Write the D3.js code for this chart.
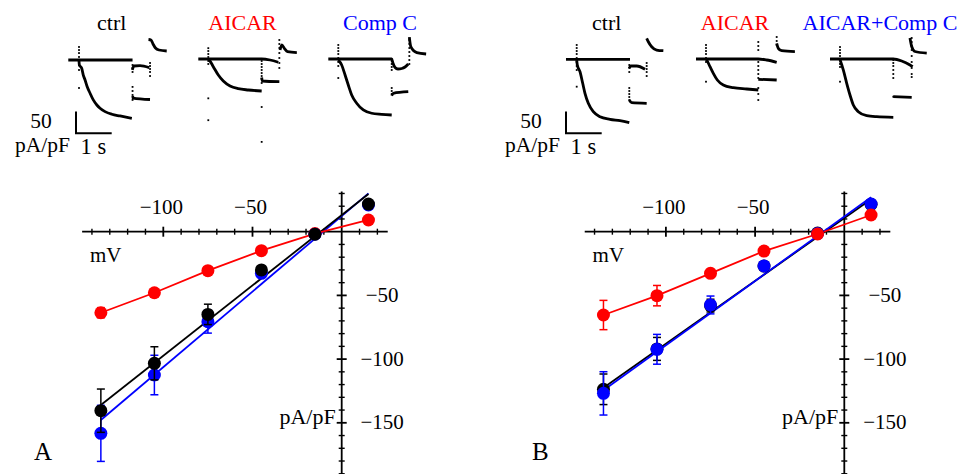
<!DOCTYPE html>
<html>
<head>
<meta charset="utf-8">
<script src="https://cdn.jsdelivr.net/npm/d3@7"></script>
<style>
  html, body { margin: 0; padding: 0; background: #fff; }
  svg { display: block; font-family: "Liberation Serif", "Times New Roman", serif; }
</style>
</head>
<body>
<svg id="fig" width="964" height="474"></svg>
<script>
// ---------- I–V data: test potentials (mV) and mean current density (pA/pF) ± SEM ----------
const voltages = [-135, -105, -75, -45, -15, 15];

const ctrlA      = [-140.5, -103.3, -64.9, -30.0, -2.0, 21.7];
const ctrlA_sem  = [17, 13, 8, 2, 1, 1];
const aicarA     = [-63.6, -47.9, -30.6, -14.9, -1.5, 9.2];
const aicarA_sem = [4, 2, 2, 1, 1, 1];
const compA      = [-158.3, -112.5, -70.6, -32.7, -2.0, 21.0];
const compA_sem  = [22, 15.5, 9, 2, 1, 1];

const ctrlB      = [-123.7, -92.0, -58.0, -27.0, -1.0, 21.5];
const ctrlB_sem  = [12, 9, 5, 1, 1, 1];
const aicarB     = [-65.4, -50.2, -32.7, -15.2, -1.8, 13.1];
const aicarB_sem = [11.5, 8, 3, 1.5, 1, 1];
const compB      = [-126.9, -92.3, -57.5, -26.9, -1.5, 21.7];
const compB_sem  = [17, 11.7, 7, 1.5, 1, 1];

// linear fits (end points at -135 and +15 mV)
const fitV      = [-135, 15];
const ctrlFitA  = [-136.0, 29.6];
const compFitA  = [-147.8, 30.1];
const ctrlFitB  = [-122.5, 25.5];
const compFitB  = [-124.5, 27.0];

// axis ticks
const xTickValues  = [-140, -130, -120, -110, -100, -90, -80, -70, -60, -50, -40, -30, -20, -10, 10, 20];
const xTickLabels  = [-100, -50];
const yTickValues  = [-190, -180, -170, -160, -150, -140, -130, -120, -110, -100, -90, -80, -70, -60,
                      -50, -40, -30, -20, -10, 10, 20, 30];
const yTickLabels  = [-50, -100, -150];

// ---------- example current traces: [time (s), current (pA/pF)] ----------
const ctrlA_hold   = [[-0.3, 0], [1.5, 0]];
const ctrlA_step   = [[0, -2], [0.01, -11.5], [0.076, -19], [0.12, -34.6], [0.17, -46], [0.23, -61.5], [0.31, -76.6],
                      [0.40, -92], [0.50, -103.7], [0.59, -111.3], [0.73, -119], [0.92, -125], [1.15, -129], [1.48, -134.3]];
const ctrlA_tailHi = [[1.493, -23], [1.54, -13.8], [1.709, -13.1], [1.969, -17.7]];
const ctrlA_tailLo = [[1.504, -83], [1.513, -87.6], [1.989, -91]];
const ctrlA_end    = [[1.947, 47.2], [2.017, 46.1], [2.073, 36.9], [2.143, 27.6], [2.241, 23], [2.457, 20.7]];
const ctrlA_marks  = [[0, [30, 23, 16, 7, -5, -12, -23, -64.5]],
                      [1.5, [-11.5, -18.4, -27.6, -62, -71.4, -80.6, -92]],
                      [1.99, [-6.9, -13.8, -20.7, -27.6, -36.9]]];

const aicarA_hold   = [[-0.28, 0], [1.495, 0], [1.73, -2.3], [1.96, -7.6]];
const aicarA_step   = [[0, 0], [0.028, -2.3], [0.14, -17.7], [0.28, -36.9], [0.42, -50.7], [0.61, -62.2],
                       [0.84, -68.4], [1.12, -71.4], [1.495, -73.7]];
const aicarA_tailLo = [[1.495, -42.6], [1.515, -50.7], [1.99, -52.3]];
const aicarA_end    = [[2.01, 20.7], [2.06, 32.3], [2.13, 24.6], [2.22, 16.9], [2.48, 14.6]];
const aicarA_marks  = [[0, [25, 18.4, 11.5, 4.6, -4.6, -11.5, -90.6, -141]],
                       [1.495, [-4.6, -11.5, -18.4, -25.3, -32.3, -39.2, -46, -55.3, -110.6, -191]],
                       [1.99, [43.8, 34.6, 25.3, 13.8, 2.3, -9.2, -20.7]]];

const compA_hold   = [[-0.28, 0], [1.496, 0], [1.53, -9.2], [1.59, -19.6], [1.67, -23], [1.78, -21.9], [1.87, -18.4], [1.96, -11.5]];
const compA_step   = [[0, -2.3], [0.095, -13.8], [0.19, -36.9], [0.28, -59.9], [0.375, -82.9], [0.515, -102],
                      [0.7, -117.5], [0.936, -125], [1.216, -127.4], [1.496, -129]];
const compA_tailLo = [[1.496, -84.6], [1.54, -79], [1.96, -75.3]];
const compA_end    = [[1.99, 50.2], [2.03, 28.6], [2.2, 14.8], [2.46, 11.5]];
const compA_marks  = [[0, [32.3, 25.3, 18.4, 11.5, 2.3, -6.9, -16.1, -43.8]],
                      [1.496, [-4.6, -11.5, -18.4, -25.3, -66.8, -73.7, -80.6]],
                      [1.99, [43.8, 34.6, 25.3, 16.1, 6.9, -2.3, -11.5]]];

const ctrlB_hold   = [[-0.3, 0], [1.493, 0]];
const ctrlB_step   = [[0, -2], [0.017, -13.1], [0.092, -28.6], [0.168, -55.3], [0.232, -78.3], [0.325, -101.4],
                      [0.465, -120.7], [0.652, -132.2], [0.933, -138.2], [1.213, -141.5], [1.473, -146.1]];
const ctrlB_tailHi = [[1.473, -20.7], [1.513, -15.4], [1.681, -15.4], [1.914, -23]];
const ctrlB_tailLo = [[1.473, -93.8], [1.54, -100], [1.96, -101.4]];
const ctrlB_end    = [[1.96, 48.2], [2.006, 40.5], [2.1, 29], [2.24, 21.4], [2.427, 19.8]];
const ctrlB_marks  = [[0, [33, 26, 19.1, 12.2, 3, -6.2, -15.4, -24.7, -63.1]],
                      [1.473, [-13.1, -20, -29.3, -66.1, -73, -80, -86.9, -93.8]],
                      [1.96, [-8.5, -15.4, -22.4, -29.3, -38.5]]];

const aicarB_hold   = [[-0.28, 0], [1.465, 0], [1.70, -2.3], [1.98, -7.6]];
const aicarB_step   = [[0, 0], [0.02, -2.3], [0.112, -17.7], [0.205, -33], [0.317, -48.4], [0.485, -59.9],
                       [0.765, -66.1], [1.14, -69.1], [1.465, -71.4]];
const aicarB_tailLo = [[1.465, -46.8], [1.98, -48.4]];
const aicarB_end    = [[1.98, 36.1], [2.025, 24.6], [2.12, 19.1], [2.49, 16.8]];
const aicarB_marks  = [[0, [32.3, 25.3, 18.4, 11.5, 2.3, -6.9, -52.3]],
                       [1.465, [39.2, 30, 20.7, -6.9, -16.1, -25.3, -34.6, -43.8, -66.8, -80.6, -94.5]],
                       [1.98, [50.7, 41.5, 32.3]]];

const combB_hold   = [[-0.28, 0], [1.493, 0], [1.728, -4.6], [1.961, -13.8], [2.036, -17.7]];
const combB_step   = [[0, -2], [0.02, -6.2], [0.092, -25.3], [0.188, -56], [0.28, -83], [0.373, -106],
                      [0.513, -121.4], [0.748, -130.6], [1.028, -133], [1.493, -134.3]];
const combB_tailLo = [[1.493, -86.9], [2.008, -88.2]];
const combB_end    = [[1.96, 48.2], [2.008, 28.8], [2.1, 17.3], [2.43, 13.6]];
const combB_marks  = [[0, [27.6, 20.7, 13.8, 6.9, -2.3, -11.5, -18.4, -52.3]],
                      [1.493, [-2.3, -9.2, -16.1, -25.3, -34.6, -43.8, -86.9]],
                      [2.008, [48.4, 39.2, 29.9, 20.7, 6.9, -6.9, -20.7, -34.6, -41.5]]];

// ---------- drawing ----------
const RED = "#ff0000", BLUE = "#0000ff", BLACK = "#000000";
const svg = d3.select("#fig");
const MINUS = "\u2212";
const fmt = v => (v < 0 ? MINUS + Math.abs(v) : String(v));

function drawIV(x0, letter, letterX, series) {
  const g = svg.append("g");
  const y0 = 231.7, kx = 1.784, ky = 1.274;
  const x = d3.scaleLinear().domain([-145.5, 25.8]).range([x0 - 145.5 * kx, x0 + 25.8 * kx]);
  const y = d3.scaleLinear().domain([-200, 31.5]).range([y0 + 200 * ky, y0 - 31.5 * ky]);

  // axes cross at the origin, ticks straddle the lines
  const ax = g.append("g").attr("stroke", BLACK).attr("stroke-width", 1.8);
  ax.append("line").attr("x1", x(-145.5)).attr("x2", x(25.8)).attr("y1", y(0)).attr("y2", y(0));
  ax.append("line").attr("x1", x(0)).attr("x2", x(0)).attr("y1", y(31.5)).attr("y2", y(-200));
  ax.selectAll(null).data(xTickValues).join("line")
    .attr("x1", d => x(d)).attr("x2", d => x(d))
    .attr("y1", d => y(0) - (xTickLabels.includes(d) ? 5 : 3))
    .attr("y2", d => y(0) + (xTickLabels.includes(d) ? 5 : 3))
    .attr("stroke-width", d => xTickLabels.includes(d) ? 1.8 : 1.4);
  ax.selectAll(null).data(yTickValues).join("line")
    .attr("y1", d => y(d)).attr("y2", d => y(d))
    .attr("x1", d => x(0) - (yTickLabels.includes(d) ? 5 : 3))
    .attr("x2", d => x(0) + (yTickLabels.includes(d) ? 5 : 3))
    .attr("stroke-width", d => yTickLabels.includes(d) ? 1.8 : 1.4);

  g.selectAll(null).data(xTickLabels).join("text")
    .attr("x", d => x(d) - 2).attr("y", 213.5)
    .attr("text-anchor", "middle").attr("font-size", 21).text(fmt);
  g.selectAll(null).data(yTickLabels).join("text")
    .attr("x", x(0) + 40.5).attr("y", d => y(d) + 6.5)
    .attr("text-anchor", "middle").attr("font-size", 21).text(fmt);
  g.append("text").attr("x", x0 - 251.7).attr("y", 261.5).attr("font-size", 21).text("mV");
  g.append("text").attr("x", x(0) - 6).attr("y", y(-150) + 1.5)
    .attr("text-anchor", "end").attr("font-size", 22).text("pA/pF");
  g.append("text").attr("x", letterX).attr("y", 460).attr("font-size", 25).text(letter);

  const line = d3.line().x(d => x(d[0])).y(d => y(d[1]));
  series.forEach(s => {
    if (s.fit) {
      g.append("path").attr("d", line(fitV.map((v, k) => [v, s.fit[k]])))
        .attr("fill", "none").attr("stroke", s.color).attr("stroke-width", 1.8);
    }
  });
  series.forEach(s => {
    if (s.joined) {
      g.append("path").attr("d", line(voltages.map((v, k) => [v, s.values[k]])))
        .attr("fill", "none").attr("stroke", s.color).attr("stroke-width", 1.8);
    }
  });
  series.forEach(s => {
    const pts = voltages.map((v, k) => ({ v, m: s.values[k], e: s.sem[k] }));
    const eg = g.append("g").attr("stroke", s.color).attr("stroke-width", 1.5);
    eg.selectAll(null).data(pts).join("line")
      .attr("x1", d => x(d.v)).attr("x2", d => x(d.v))
      .attr("y1", d => y(d.m - d.e)).attr("y2", d => y(d.m + d.e));
    eg.selectAll(null).data(pts.flatMap(d => [d.m - d.e, d.m + d.e].map(e => ({ v: d.v, e })))).join("line")
      .attr("x1", d => x(d.v) - 4).attr("x2", d => x(d.v) + 4)
      .attr("y1", d => y(d.e)).attr("y2", d => y(d.e));
    g.selectAll(null).data(pts).join("circle")
      .attr("cx", d => x(d.v)).attr("cy", d => y(d.m)).attr("r", 6.5).attr("fill", s.color);
  });
}

drawIV(341.7, "A", 34, [
  { values: aicarA, sem: aicarA_sem, color: RED, joined: true },
  { values: compA, sem: compA_sem, color: BLUE, fit: compFitA },
  { values: ctrlA, sem: ctrlA_sem, color: BLACK, fit: ctrlFitA }
]);

drawIV(844.3, "B", 532, [
  { values: ctrlB, sem: ctrlB_sem, color: BLACK, fit: ctrlFitB },
  { values: compB, sem: compB_sem, color: BLUE, fit: compFitB },
  { values: aicarB, sem: aicarB_sem, color: RED, joined: true }
]);

// ---------- current trace insets ----------
function drawInset(x0, y0, title, color, titleX, paths, marks) {
  const g = svg.append("g");
  const t = d3.scaleLinear().domain([0, 1]).range([x0, x0 + 35.7]);
  const i = d3.scaleLinear().domain([0, 50]).range([y0, y0 - 21.7]);
  const line = d3.line().x(d => t(d[0])).y(d => i(d[1])).curve(d3.curveMonotoneX);
  paths.forEach(p => {
    g.append("path").attr("d", line(p)).attr("fill", "none")
      .attr("stroke", BLACK).attr("stroke-width", 2.8);
  });
  const dots = marks.flatMap(([tt, list]) => list.map(c => [tt, c]));
  g.selectAll(null).data(dots).join("rect")
    .attr("x", d => t(d[0]) - 0.9).attr("y", d => i(d[1]) - 0.9)
    .attr("width", 1.8).attr("height", 1.8).attr("fill", BLACK);
  svg.append("text").attr("x", titleX).attr("y", 30).attr("text-anchor", "middle")
    .attr("font-size", 22).attr("fill", color).text(title);
}

// calibration bar (50 pA/pF, 1 s)
function scaleBar(sc, textX) {
  const g = svg.append("g");
  g.append("path")
    .attr("d", d3.line()([[sc.t(0), sc.i(50)], [sc.t(0), sc.i(0)], [sc.t(1), sc.i(0)]]))
    .attr("fill", "none").attr("stroke", BLACK).attr("stroke-width", 2);
  g.append("text").attr("x", textX).attr("y", sc.i(0) - 5.5).attr("text-anchor", "middle")
    .attr("font-size", 21.5).text("50");
  g.append("text").attr("x", textX + 1.5).attr("y", sc.i(0) + 18.8).attr("text-anchor", "middle")
    .attr("font-size", 21.5).text("pA/pF");
  g.append("text").attr("x", sc.t(0) + 4.5).attr("y", sc.i(0) + 20.5)
    .attr("font-size", 22.5).text("1 s");
}

drawInset(79, 60, "ctrl", BLACK, 111.7,
  [ctrlA_hold, ctrlA_step, ctrlA_tailHi, ctrlA_tailLo, ctrlA_end], ctrlA_marks);
drawInset(208.3, 59, "AICAR", RED, 242.5,
  [aicarA_hold, aicarA_step, aicarA_tailLo, aicarA_end], aicarA_marks);
drawInset(338.3, 59, "Comp C", BLUE, 380,
  [compA_hold, compA_step, compA_tailLo, compA_end], compA_marks);

drawInset(576.7, 59.3, "ctrl", BLACK, 606.7,
  [ctrlB_hold, ctrlB_step, ctrlB_tailHi, ctrlB_tailLo, ctrlB_end], ctrlB_marks);
drawInset(706, 59, "AICAR", RED, 735,
  [aicarB_hold, aicarB_step, aicarB_tailLo, aicarB_end], aicarB_marks);
drawInset(840, 59, "AICAR+Comp C", BLUE, 880,
  [combB_hold, combB_step, combB_tailLo, combB_end], combB_marks);

const barScaleA = {
  t: d3.scaleLinear().domain([0, 1]).range([76, 76 + 35.7]),
  i: d3.scaleLinear().domain([0, 50]).range([133.3, 133.3 - 21.7])
};
const barScaleB = {
  t: d3.scaleLinear().domain([0, 1]).range([566, 566 + 35.7]),
  i: d3.scaleLinear().domain([0, 50]).range([133.3, 133.3 - 21.7])
};
scaleBar(barScaleA, 41);
scaleBar(barScaleB, 531);
</script>
</body>
</html>
